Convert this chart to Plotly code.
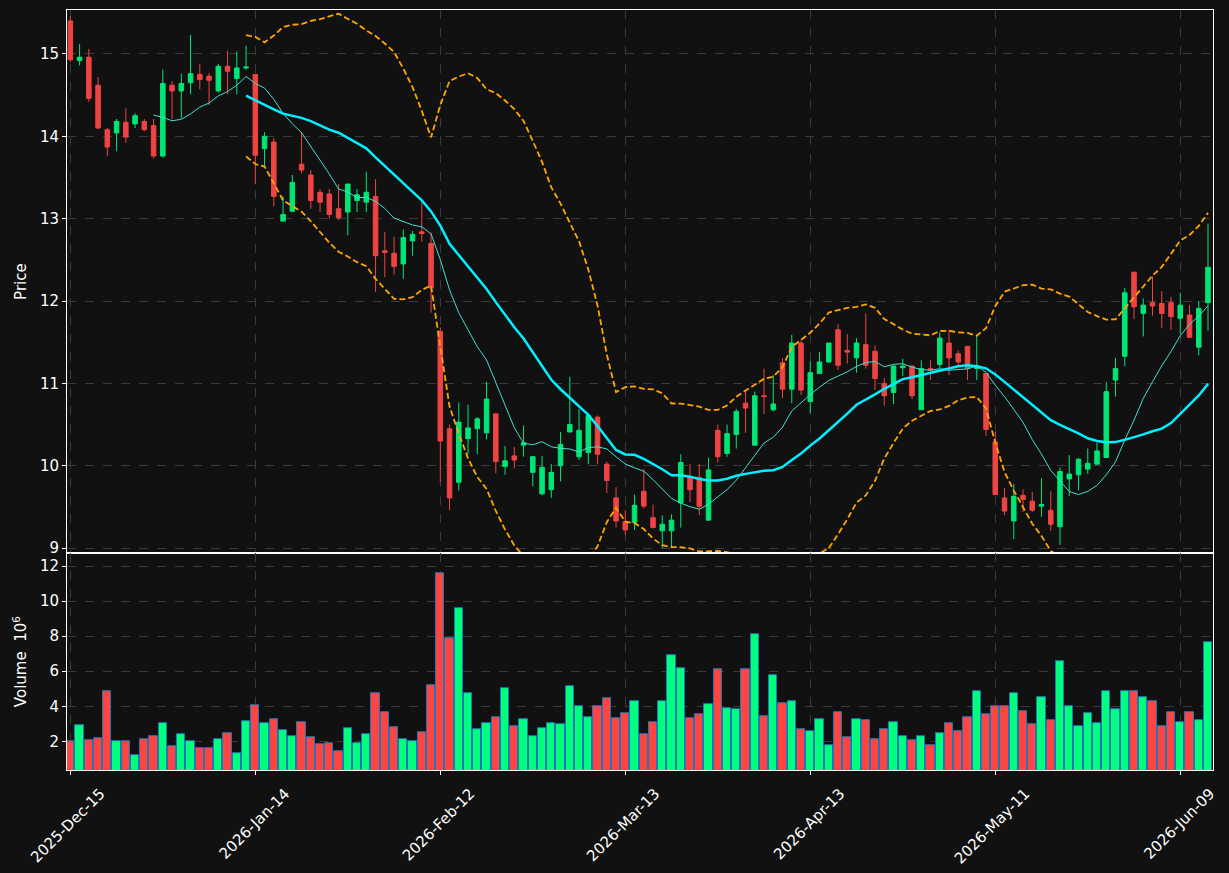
import pandas as pd
import numpy as np
import plotly.graph_objects as go
from plotly.subplots import make_subplots

# ---------------- data ----------------
opens = [15.40, 14.92, 14.96, 14.62, 14.08, 14.04, 14.17, 14.15, 14.18, 14.13,
         13.76, 14.62, 14.55, 14.65, 14.75, 14.73, 14.55, 14.85, 14.70, 14.83,
         14.75, 13.85, 13.93, 12.97, 13.09, 13.66, 13.53, 13.32, 13.30, 13.12,
         13.08, 13.22, 13.20, 13.27, 12.61, 12.58, 12.45, 12.73, 12.84, 12.70,
         11.63, 10.45, 9.80, 10.33, 10.45, 10.40, 10.63, 9.99, 10.12, 10.25,
         9.92, 9.66, 9.71, 10.00, 10.41, 10.11, 10.16, 10.59, 10.02, 9.61,
         9.32, 9.31, 9.69, 9.37, 9.21, 9.21, 9.55, 9.87, 9.86, 9.34,
         10.43, 10.15, 10.38, 10.76, 10.25, 10.85, 10.68, 11.25, 10.93, 11.49,
         10.78, 11.12, 11.26, 11.65, 11.40, 11.31, 11.47, 11.39, 11.00, 10.89,
         11.19, 11.21, 10.68, 11.18, 11.23, 11.49, 11.36, 11.45, 11.18, 11.12,
         10.29, 9.61, 9.33, 9.64, 9.57, 9.51, 9.46, 9.26, 9.84, 9.89,
         9.96, 10.02, 10.10, 11.04, 11.33, 12.35, 11.85, 11.98, 11.97, 11.98,
         11.79, 11.83, 11.44, 11.98]
highs = [15.46, 15.12, 15.06, 14.72, 14.10, 14.21, 14.34, 14.28, 14.21, 14.21,
         14.81, 14.67, 14.76, 15.23, 14.88, 14.77, 14.88, 15.04, 15.03, 15.10,
         14.75, 14.05, 13.98, 13.27, 13.53, 14.05, 13.59, 13.36, 13.36, 13.42,
         13.42, 13.36, 13.57, 13.48, 12.84, 12.78, 12.87, 12.85, 13.20, 12.83,
         11.68, 10.50, 10.77, 10.74, 10.59, 11.02, 10.64, 10.24, 10.23, 10.49,
         10.12, 10.12, 10.02, 10.41, 11.08, 10.69, 10.64, 10.61, 10.05, 9.74,
         9.46, 9.65, 9.96, 9.53, 9.40, 9.41, 10.14, 10.02, 10.02, 10.10,
         10.50, 10.50, 10.69, 10.90, 10.90, 11.18, 11.10, 11.31, 11.59, 11.52,
         11.27, 11.38, 11.49, 11.72, 11.60, 11.55, 11.85, 11.46, 11.06, 11.22,
         11.30, 11.22, 11.28, 11.28, 11.62, 11.65, 11.40, 11.45, 11.59, 11.12,
         10.41, 9.73, 9.78, 9.71, 9.68, 9.85, 9.69, 9.98, 10.13, 10.09,
         10.21, 10.28, 11.02, 11.31, 12.16, 12.35, 12.03, 12.30, 12.12, 12.05,
         12.10, 11.95, 12.00, 12.94]
lows = [14.90, 14.86, 14.42, 14.09, 13.76, 13.82, 13.92, 14.10, 14.06, 13.73,
        13.74, 14.21, 14.22, 14.51, 14.57, 14.38, 14.53, 14.51, 14.51, 14.81,
        13.42, 13.62, 13.15, 12.97, 13.08, 13.55, 13.12, 13.08, 13.00, 12.98,
        12.80, 13.08, 13.08, 12.11, 12.29, 12.32, 12.27, 12.55, 12.72, 11.86,
        9.80, 9.46, 9.70, 10.14, 10.14, 10.32, 9.91, 9.89, 9.97, 10.11,
        9.75, 9.64, 9.61, 9.81, 10.41, 10.07, 10.02, 10.02, 9.67, 9.25,
        9.16, 9.22, 9.48, 9.24, 9.00, 9.01, 9.25, 9.56, 9.40, 9.34,
        10.04, 10.11, 10.21, 10.40, 10.25, 10.63, 10.66, 10.82, 10.76, 10.86,
        10.64, 11.12, 11.25, 11.16, 11.24, 11.13, 11.18, 10.92, 10.73, 10.75,
        11.09, 10.81, 10.68, 11.04, 11.18, 11.10, 11.21, 11.04, 11.04, 10.36,
        9.65, 9.40, 9.11, 9.44, 9.44, 9.38, 9.21, 9.04, 9.63, 9.70,
        9.90, 10.02, 10.10, 10.84, 11.21, 11.78, 11.57, 11.82, 11.67, 11.65,
        11.60, 11.55, 11.34, 11.64]
closes = [14.93, 14.96, 14.46, 14.10, 13.87, 14.18, 13.99, 14.25, 14.08, 13.76,
          14.64, 14.55, 14.64, 14.76, 14.69, 14.68, 14.85, 14.79, 14.83, 14.84,
          13.77, 14.00, 13.27, 13.05, 13.44, 13.59, 13.22, 13.20, 13.05, 13.01,
          13.42, 13.29, 13.32, 12.55, 12.59, 12.42, 12.77, 12.81, 12.82, 12.16,
          10.30, 9.61, 10.53, 10.46, 10.57, 10.81, 10.05, 10.06, 10.07, 10.28,
          10.11, 9.98, 9.92, 10.26, 10.50, 10.43, 10.61, 10.14, 9.82, 9.33,
          9.22, 9.52, 9.51, 9.25, 9.29, 9.34, 10.04, 9.71, 9.51, 9.95,
          10.11, 10.39, 10.66, 10.70, 10.85, 10.84, 10.75, 10.93, 11.49, 10.92,
          11.13, 11.26, 11.49, 11.22, 11.38, 11.49, 11.22, 11.06, 10.85, 11.21,
          11.21, 10.85, 11.18, 11.16, 11.55, 11.31, 11.26, 11.18, 11.21, 10.44,
          9.65, 9.45, 9.63, 9.59, 9.46, 9.53, 9.29, 9.93, 9.90, 10.08,
          10.03, 10.18, 10.90, 11.18, 12.10, 11.93, 11.95, 11.94, 11.85, 11.81,
          11.95, 11.56, 11.91, 12.41]
volumes_m = [1.98, 2.91, 2.06, 2.15, 4.84, 1.98, 1.98, 1.18, 2.10, 2.27,
             3.01, 1.70, 2.40, 1.98, 1.58, 1.58, 2.10, 2.46, 1.31, 3.12,
             4.06, 3.01, 3.24, 2.61, 2.32, 3.07, 2.21, 1.81, 1.87, 1.41,
             2.72, 1.87, 2.40, 4.72, 3.64, 2.78, 2.10, 1.98, 2.50, 5.18,
             11.58, 7.87, 9.58, 4.72, 2.67, 3.01, 3.35, 5.01, 2.84, 3.24,
             2.32, 2.72, 3.01, 2.95, 5.12, 3.98, 3.35, 3.98, 4.44, 3.30,
             3.58, 4.27, 2.38, 3.07, 4.27, 6.90, 6.15, 3.30, 3.52, 4.10,
             6.10, 3.87, 3.81, 6.10, 8.10, 3.41, 5.75, 4.15, 4.27, 2.67,
             2.55, 3.24, 1.75, 3.64, 2.21, 3.24, 3.18, 2.10, 2.67, 3.07,
             2.32, 2.04, 2.32, 1.75, 2.44, 3.01, 2.55, 3.35, 4.84, 3.52,
             3.98, 3.98, 4.72, 3.70, 2.95, 4.50, 3.18, 6.55, 3.98, 2.84,
             3.58, 3.01, 4.84, 3.81, 4.84, 4.84, 4.50, 4.27, 2.84, 3.64,
             3.07, 3.64, 3.18, 7.64]
tick_labels = ["2025-Dec-15", "2026-Jan-14", "2026-Feb-12", "2026-Mar-13",
               "2026-Apr-13", "2026-May-11", "2026-Jun-09"]
tick_every = 20

# ---------------- derived indicators ----------------
n = len(closes)
x = list(range(n))
cs = pd.Series(closes)
ma10 = cs.rolling(10).mean()
ma20 = cs.rolling(20).mean()
sd20 = cs.rolling(20).std(ddof=0)
bb_up = ma20 + 2 * sd20
bb_lo = ma20 - 2 * sd20

UP_C = "#00e676"
DN_C = "#ef4444"
VUP_C = "#00ff7f"
VDN_C = "#ff4444"
vol_colors = [VUP_C if c >= o else VDN_C for o, c in zip(opens, closes)]

fig = make_subplots(rows=2, cols=1, shared_xaxes=True, vertical_spacing=0,
                    row_heights=[0.7147, 0.2853])

fig.add_trace(go.Candlestick(
    x=x, open=opens, high=highs, low=lows, close=closes,
    increasing=dict(line=dict(color=UP_C, width=1), fillcolor=UP_C),
    decreasing=dict(line=dict(color=DN_C, width=1), fillcolor=DN_C),
    whiskerwidth=0, showlegend=False, name="price"), row=1, col=1)

fig.add_trace(go.Scatter(x=x, y=bb_up, mode="lines",
                         line=dict(color="#ffa500", width=1.8, dash="6px,3px"),
                         showlegend=False, hoverinfo="skip"), row=1, col=1)
fig.add_trace(go.Scatter(x=x, y=bb_lo, mode="lines",
                         line=dict(color="#ffa500", width=1.8, dash="6px,3px"),
                         showlegend=False, hoverinfo="skip"), row=1, col=1)
fig.add_trace(go.Scatter(x=x, y=ma10, mode="lines",
                         line=dict(color="#40e0d0", width=1),
                         showlegend=False, hoverinfo="skip"), row=1, col=1)
fig.add_trace(go.Scatter(x=x, y=ma20, mode="lines",
                         line=dict(color="#00f0ff", width=2.5),
                         showlegend=False, hoverinfo="skip"), row=1, col=1)

fig.add_trace(go.Bar(x=x, y=volumes_m, width=0.9,
                     marker=dict(color=vol_colors, line=dict(color="#1f77b4", width=1)),
                     showlegend=False), row=2, col=1)

FONT = dict(family="DejaVu Sans", size=15, color="#ffffff")
GRID = "#3a3a3a"
axis_common = dict(showline=True, linecolor="#ffffff", linewidth=1, mirror=True,
                   showgrid=True, gridcolor=GRID, griddash="dash", gridwidth=1,
                   zeroline=False, tickfont=FONT, ticks="outside",
                   tickcolor="#ffffff", ticklen=4)

tickvals = list(range(0, n, tick_every))
xr = [-0.36, 123.54]
fig.update_xaxes(**axis_common, range=xr, tickvals=tickvals, ticktext=tick_labels)
fig.update_xaxes(showticklabels=False, ticks="", rangeslider_visible=False, row=1, col=1)
fig.update_xaxes(tickangle=-45, ticklabelshift=30, ticklabelstandoff=4, row=2, col=1)

fig.update_yaxes(**axis_common)
fig.update_yaxes(range=[8.939, 15.533], tickvals=[9, 10, 11, 12, 13, 14, 15],
                 title=dict(text="Price", font=FONT, standoff=9), row=1, col=1)
fig.update_yaxes(range=[0.36, 12.74], tickvals=[2, 4, 6, 8, 10, 12],
                 title=dict(text="Volume  10<sup>6</sup>", font=FONT, standoff=9),
                 row=2, col=1)

fig.update_layout(width=1229, height=873,
                  margin=dict(l=67, r=16, t=10, b=103, autoexpand=False),
                  paper_bgcolor="#111111", plot_bgcolor="#111111",
                  font=FONT, bargap=0, showlegend=False)

fig.write_html("out.html")
